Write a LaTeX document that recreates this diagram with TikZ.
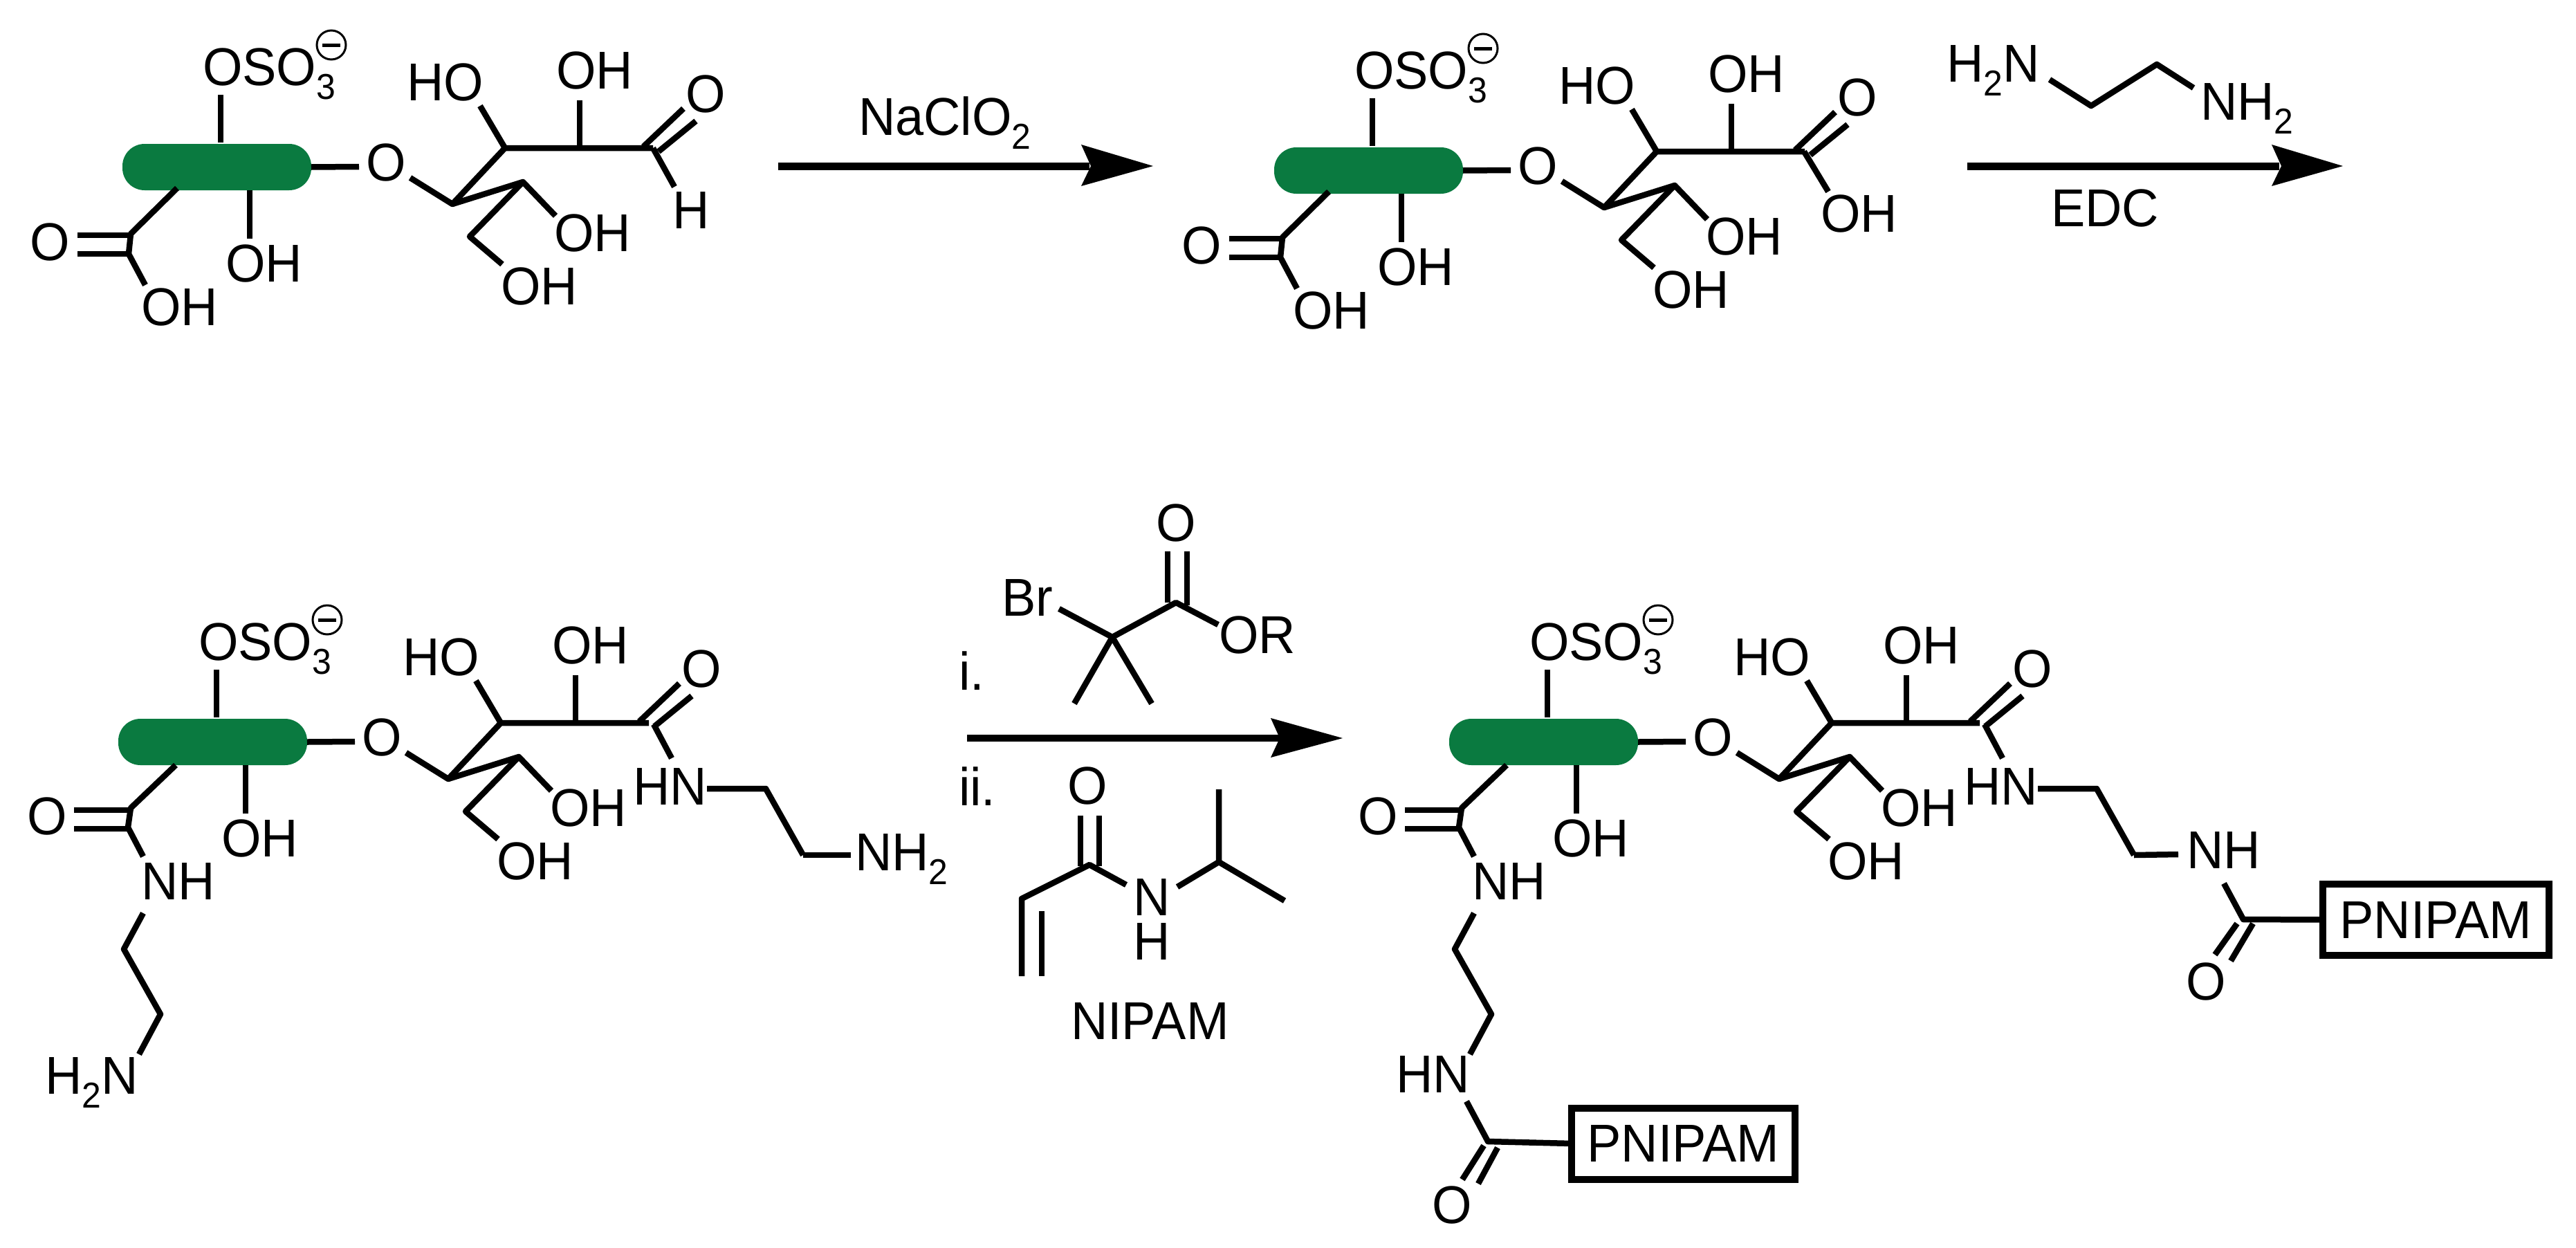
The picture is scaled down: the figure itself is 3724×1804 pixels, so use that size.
\documentclass[tikz,border=0pt]{standalone}
\usepackage{fontspec}
\setmainfont[FakeStretch=0.96]{Liberation Sans}
\newcommand\bigf{\fontsize{77}{64}\selectfont}
\newcommand\sbs[1]{\raisebox{-20pt}{\fontsize{52}{56}\selectfont #1}}
\definecolor{pillgreen}{HTML}{0A7A40}
\newcommand\lab[4]{\node[txt] (#1) at (#2,#3) {#4};}
\newcommand\cc[3]{\coordinate (#1) at (#2,#3);}
\newcommand\sugar[3]{%
\begin{scope}[shift={(#2,#3)}]
\node[pill] (#1pill) at (313.5,241.5) {};
\lab{#1oso}{293}{123}{OSO\sbs{3}}
\node[chg] (#1chg) at (479,65) {\rule{26pt}{5pt}};
\cc{#1a}{319}{137}\cc{#1b}{319}{206}
\draw[bond] (#1a) -- (#1b);
\cc{#1lk}{519}{241}
\draw[bond] (#1pill.east) -- (#1lk);
\lab{#1O}{529}{261}{O}
\cc{#1c1}{593}{257}\cc{#1c2}{654}{295}\cc{#1c3}{730}{214}\cc{#1c4}{838}{214}\cc{#1c5}{944}{214}
\cc{#1c6}{756}{263}\cc{#1c7}{803}{312}\cc{#1c8}{679}{342}\cc{#1c9}{726}{382}
\draw[bond] (#1c1) -- (#1c2) -- (#1c3) -- (#1c4) -- (#1c5);
\draw[bond] (#1c2) -- (#1c6) -- (#1c7);
\draw[bond] (#1c6) -- (#1c8) -- (#1c9);
\cc{#1d1}{694}{153}\draw[bond] (#1d1) -- (#1c3);
\cc{#1d2}{838}{145}\draw[bond] (#1d2) -- (#1c4);
\lab{#1ho}{588}{145}{HO}
\lab{#1oha}{804}{128}{OH}
\lab{#1ohb}{801}{363}{OH}
\lab{#1ohc}{724}{440}{OH}
\cc{#1e1}{930}{212}\cc{#1e2}{988}{157}\cc{#1e3}{952}{219}\cc{#1e4}{1006}{175}
\draw[bond] (#1e1) -- (#1e2);
\draw[bond] (#1e3) -- (#1e4);
\lab{#1Ot}{991}{162}{O}
\cc{#1f1}{361}{275}\cc{#1f2}{361}{345}
\draw[bond] (#1f1) -- (#1f2);
\end{scope}}
\newcommand\acid[3]{%
\begin{scope}[shift={(#2,#3)}]
\cc{#1g1}{256}{272}\cc{#1g2}{189}{338}\cc{#1g3}{186}{367}\cc{#1g4}{210}{412}
\draw[bond] (#1g1) -- (#1g2) -- (#1g3) -- (#1g4);
\cc{#1h1}{112}{340}\cc{#1h2}{189}{340}\cc{#1h3}{112}{367}\cc{#1h4}{186}{367}
\draw[bond] (#1h1) -- (#1h2);
\draw[bond] (#1h3) -- (#1h4);
\lab{#1Oa}{43}{376}{O}
\lab{#1ohd}{204}{470}{OH}
\lab{#1ohe}{326}{407}{OH}
\end{scope}}
\newcommand\amide[3]{%
\begin{scope}[shift={(#2,#3)}]
\cc{#1g1}{254}{1106}\cc{#1g2}{189}{1168}\cc{#1g3}{185}{1196}\cc{#1g4}{207}{1238}
\draw[bond] (#1g1) -- (#1g2) -- (#1g3) -- (#1g4);
\cc{#1h1}{107}{1171}\cc{#1h2}{189}{1171}\cc{#1h3}{107}{1198}\cc{#1h4}{185}{1198}
\draw[bond] (#1h1) -- (#1h2);
\draw[bond] (#1h3) -- (#1h4);
\lab{#1Oa}{39}{1206}{O}
\lab{#1ohe}{320}{1238}{OH}
\lab{#1nh}{204}{1300}{NH}
\cc{#1i1}{207}{1320}\cc{#1i2}{179}{1372}\cc{#1i3}{232}{1466}\cc{#1i4}{201}{1524}
\draw[bond] (#1i1) -- (#1i2) -- (#1i3) -- (#1i4);
\cc{#1j1}{945}{1047}\cc{#1j2}{971}{1096}
\draw[bond] (#1j1) -- (#1j2);
\lab{#1hn}{915}{1163}{HN}
\cc{#1k1}{1022}{1140}\cc{#1k2}{1107}{1140}\cc{#1k3}{1161}{1236}
\draw[bond] (#1k1) -- (#1k2) -- (#1k3);
\end{scope}}
\begin{document}
\begin{tikzpicture}[x=1pt,y=-1pt,
  txt/.style={anchor=base west,inner sep=0pt,outer sep=0pt,font=\bigf},
  pill/.style={fill=pillgreen,rounded corners=32pt,minimum width=273pt,minimum height=67pt,inner sep=0pt,outer sep=0pt},
  chg/.style={draw,line width=3pt,circle,minimum size=42pt,inner sep=0pt},
  bond/.style={line width=8.5pt,line join=round},
  rxn/.style={line width=11pt},
  pbox/.style={draw,line width=10pt,inner sep=0pt,outer sep=0pt,font=\bigf,minimum height=103pt}]
\useasboundingbox (0,0) rectangle (3724,1804);
% structure 1
\sugar{a}{0}{0}
\acid{a}{0}{0}
\cc{aH1}{944}{214}\cc{aH2}{975}{270}
\draw[bond] (aH1) -- (aH2);
\lab{aH}{972}{330}{H}
% arrow 1
\cc{r1s}{1125}{240}\cc{r1e}{1575}{240}
\draw[rxn] (r1s) -- (r1e);
\cc{r1t}{1667}{240}\cc{r1u}{1563}{209}\cc{r1n}{1577}{240}\cc{r1d}{1563}{269}
\fill (r1t) -- (r1u) -- (r1n) -- (r1d) -- cycle;
\lab{naclo}{1241}{195}{NaClO\sbs{2}}
% structure 2
\sugar{b}{1665}{5}
\acid{b}{1665}{5}
\cc{bH1}{2608}{219}\cc{bH2}{2643}{277}
\draw[bond] (bH1) -- (bH2);
\lab{bOH}{2632}{335}{OH}
% arrow 2 with reagent
\cc{r2s}{2844}{240}\cc{r2e}{3295}{240}
\draw[rxn] (r2s) -- (r2e);
\cc{r2t}{3387}{240}\cc{r2u}{3284}{209}\cc{r2n}{3298}{240}\cc{r2d}{3284}{269}
\fill (r2t) -- (r2u) -- (r2n) -- (r2d) -- cycle;
\lab{h2na}{2814}{118}{H\sbs{2}N}
\lab{nh2a}{3181}{173}{NH\sbs{2}}
\cc{e1}{2963}{115}\cc{e2}{3023}{153}\cc{e3}{3118}{93}\cc{e4}{3171}{127}
\draw[bond] (e1) -- (e2) -- (e3) -- (e4);
\lab{edc}{2965}{327}{EDC}
% structure 3
\sugar{c}{-6}{831}
\amide{c}{0}{0}
\lab{cnh2}{1236}{1258}{NH\sbs{2}}
\cc{ck4}{1230}{1236}\draw[bond] (ck3) -- (ck4);
\lab{ch2n}{65}{1581}{H\sbs{2}N}
% arrow 3
\cc{r3s}{1398}{1067}\cc{r3e}{1850}{1067}
\draw[line width=10pt] (r3s) -- (r3e);
\cc{r3t}{1941}{1067}\cc{r3u}{1837}{1038}\cc{r3n}{1850}{1067}\cc{r3d}{1837}{1095}
\fill (r3t) -- (r3u) -- (r3n) -- (r3d) -- cycle;
\lab{ri}{1386}{997}{i.}
\lab{rii}{1386}{1164}{ii.}
\lab{br}{1448}{890}{Br}
\lab{or}{1762}{944}{OR}
\cc{q0}{1531}{880}\cc{q1}{1608}{921}\cc{q2}{1553}{1017}\cc{q3}{1665}{1017}\cc{q4}{1700}{871}\cc{q5}{1761}{903}
\draw[bond] (q0) -- (q1) -- (q4) -- (q5);
\draw[bond] (q2) -- (q1) -- (q3);
\cc{q6}{1688}{797}\cc{q7}{1688}{871}\cc{q8}{1716}{797}\cc{q9}{1716}{875}
\draw[bond] (q6) -- (q7);
\draw[bond] (q8) -- (q9);
\lab{qO}{1671}{782}{O}
% NIPAM
\lab{nO}{1543}{1162}{O}
\cc{n1}{1562}{1179}\cc{n2}{1562}{1252}\cc{n3}{1589}{1179}\cc{n4}{1589}{1252}
\draw[bond] (n1) -- (n2);
\draw[bond] (n3) -- (n4);
\cc{n5}{1575}{1250}\cc{n6}{1477}{1299}\cc{n7}{1477}{1411}\cc{n8}{1506}{1317}\cc{n9}{1506}{1411}\cc{n10}{1628}{1279}
\draw[bond] (n7) -- (n6) -- (n5) -- (n10);
\draw[bond] (n8) -- (n9);
\node[font=\bigf,inner sep=0pt,outer sep=0pt,align=center,anchor=base] (nNH) at (1665,1387) {N\\H};
\cc{n11}{1702}{1282}\cc{n12}{1762}{1246}\cc{n13}{1762}{1141}\cc{n14}{1857}{1302}
\draw[bond] (n11) -- (n12) -- (n13);
\draw[bond] (n12) -- (n14);
\lab{nipam}{1548}{1502}{NIPAM}
% structure 4
\sugar{d}{1918}{831}
\amide{d}{1924}{0}
\lab{dnh}{3161}{1255}{NH}
\cc{dk4}{3149}{1235}\draw[bond] (dk3) -- (dk4);
\cc{m1}{3215}{1277}\cc{m2}{3243}{1329}
\node[pbox,minimum width=327pt] (box1) at (3521.5,1329.5) {PNIPAM};
\draw[bond] (m1) -- (m2) -- (box1.west);
\cc{m3}{3234}{1335}\cc{m4}{3202}{1380}\cc{m5}{3257}{1335}\cc{m6}{3225}{1389}
\draw[bond] (m3) -- (m4);
\draw[bond] (m5) -- (m6);
\lab{dO1}{3160}{1445}{O}
\lab{dhn}{2018}{1579}{HN}
\cc{m7}{2120}{1592}\cc{m8}{2151}{1650}
\node[pbox,minimum width=323pt] (box2) at (2433.5,1653) {PNIPAM};
\draw[bond] (m7) -- (m8) -- (box2.west);
\cc{m9}{2145}{1656}\cc{m10}{2114}{1705}\cc{m11}{2165}{1659}\cc{m12}{2137}{1711}
\draw[bond] (m9) -- (m10);
\draw[bond] (m11) -- (m12);
\lab{dO2}{2070}{1768}{O}
\end{tikzpicture}
\end{document}
